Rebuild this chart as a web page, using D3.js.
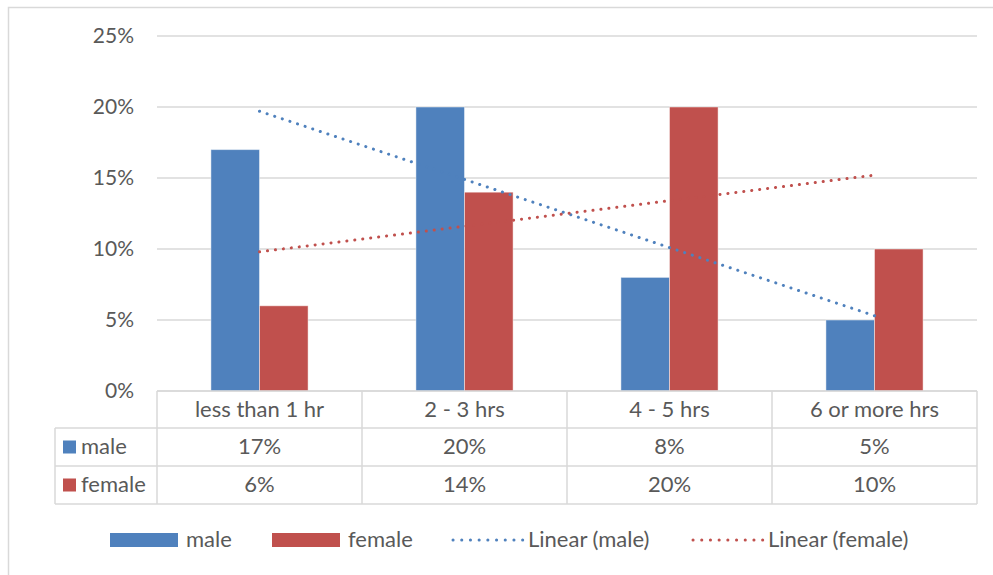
<!DOCTYPE html>
<html>
<head>
<meta charset="utf-8">
<script src="https://cdn.jsdelivr.net/npm/d3@7"></script>
<style>
  html, body { margin: 0; padding: 0; background: #fff; }
  svg { display: block; font-family: Lato, "Open Sans", sans-serif; }
</style>
</head>
<body>
<svg id="chart" width="993" height="575"></svg>
<script>
// Hours per category, share of respondents by gender
const categories = ["less than 1 hr", "2 - 3 hrs", "4 - 5 hrs", "6 or more hrs"];
const maleValues = [0.17, 0.20, 0.08, 0.05];
const femaleValues = [0.06, 0.14, 0.20, 0.10];
const seriesNames = ["male", "female"];
const yTicks = [0, 0.05, 0.10, 0.15, 0.20, 0.25];

const colors = { male: "#4F81BD", female: "#C0504D" };
const textColor = "#595959";
const lineColor = "#d9d9d9";
const fontSize = 22;

const svg = d3.select("#chart");

// Chart frame (top and left edges)
svg.append("path")
  .attr("d", "M8.5,575 L8.5,7.5 L993,7.5")
  .attr("fill", "none").attr("stroke", lineColor).attr("stroke-width", 1.5);

const plot = { left: 157, right: 977, top: 36, bottom: 391 };

const x = d3.scaleBand().domain(categories).range([plot.left, plot.right]).paddingInner(0).paddingOuter(0);
const y = d3.scaleLinear().domain([0, 0.25]).range([plot.bottom, plot.top]);

const barW = x.bandwidth() * 0.237;

// Gridlines
svg.append("g").selectAll("line").data(yTicks).join("line")
  .attr("x1", plot.left).attr("x2", plot.right)
  .attr("y1", d => y(d)).attr("y2", d => y(d))
  .attr("stroke", lineColor).attr("stroke-width", 1.5);

// Y axis labels
const yAxis = d3.axisLeft(y).tickValues(yTicks).tickFormat(d3.format(".0%")).tickSize(0).tickPadding(0);
const yg = svg.append("g").attr("transform", `translate(${plot.left - 23},0)`).call(yAxis);
yg.select(".domain").remove();
yg.selectAll("text").attr("fill", textColor).attr("dy", "0.33em")
  .style("font-size", (fontSize - 1) + "px")
  .style("font-family", "Lato, 'Open Sans', sans-serif");

// Bars
const series = [
  { name: "male", values: maleValues, offset: -1 },
  { name: "female", values: femaleValues, offset: 0 }
];
series.forEach(s => {
  svg.append("g").selectAll("rect").data(s.values).join("rect")
    .attr("x", (d, i) => x(categories[i]) + x.bandwidth() / 2 + s.offset * barW)
    .attr("y", d => y(d))
    .attr("width", barW)
    .attr("height", d => y(0) - y(d))
    .attr("fill", colors[s.name])
    .attr("stroke", "#ffffff").attr("stroke-opacity", 0.45).attr("stroke-width", 1);
});

// Linear trendlines (least squares over category index)
function linearFit(vals) {
  const xs = vals.map((_, i) => i + 1);
  const mx = d3.mean(xs), my = d3.mean(vals);
  const slope = d3.sum(xs, (xi, i) => (xi - mx) * (vals[i] - my)) / d3.sum(xs, xi => (xi - mx) ** 2);
  return xi => my + slope * (xi - mx);
}
const cx = i => x(categories[i]) + x.bandwidth() / 2;
series.forEach(s => {
  const f = linearFit(s.values);
  const n = s.values.length;
  svg.append("line")
    .attr("x1", cx(0)).attr("y1", y(f(1)))
    .attr("x2", cx(n - 1)).attr("y2", y(f(n)))
    .attr("stroke", colors[s.name]).attr("stroke-width", 3)
    .attr("stroke-linecap", "round").attr("stroke-dasharray", "0.1 7.9");
});

// Data table
const rowY = [391, 428, 466, 504];
const tableLeft = 55;
const tg = svg.append("g");
// horizontal lines
tg.append("line").attr("x1", plot.left).attr("x2", plot.right).attr("y1", rowY[0]).attr("y2", rowY[0]);
[1, 2, 3].forEach(r => {
  tg.append("line").attr("x1", tableLeft).attr("x2", plot.right).attr("y1", rowY[r]).attr("y2", rowY[r]);
});
// vertical lines
tg.append("line").attr("x1", tableLeft).attr("x2", tableLeft).attr("y1", rowY[1]).attr("y2", rowY[3]);
categories.forEach(c => {
  tg.append("line").attr("x1", x(c)).attr("x2", x(c)).attr("y1", rowY[0]).attr("y2", rowY[3]);
});
tg.append("line").attr("x1", plot.right).attr("x2", plot.right).attr("y1", rowY[0]).attr("y2", rowY[3]);
tg.selectAll("line").attr("stroke", lineColor).attr("stroke-width", 1.5);

const txt = (g, tx, ty, s, anchor) => g.append("text")
  .attr("x", tx).attr("y", ty).attr("text-anchor", anchor || "middle")
  .attr("dy", "0.33em")
  .attr("fill", textColor).style("font-size", fontSize + "px").text(s);

categories.forEach((c, i) => {
  txt(tg, cx(i), (rowY[0] + rowY[1]) / 2, c);
  txt(tg, cx(i), (rowY[1] + rowY[2]) / 2, d3.format(".0%")(maleValues[i]));
  txt(tg, cx(i), (rowY[2] + rowY[3]) / 2, d3.format(".0%")(femaleValues[i]));
});
seriesNames.forEach((name, r) => {
  const my = (rowY[r + 1] + rowY[r + 2]) / 2;
  tg.append("rect").attr("x", 63).attr("y", my - 6.5).attr("width", 13).attr("height", 13).attr("fill", colors[name]);
  txt(tg, 81, my, name, "start");
});

// Legend
const legendY = 540;
const lg = svg.append("g");
const legendItems = [
  { type: "bar", name: "male", label: "male", x: 110 },
  { type: "bar", name: "female", label: "female", x: 272 },
  { type: "line", name: "male", label: "Linear (male)", x: 452 },
  { type: "line", name: "female", label: "Linear (female)", x: 692 }
];
legendItems.forEach(it => {
  if (it.type === "bar") {
    lg.append("rect").attr("x", it.x).attr("y", legendY - 7).attr("width", 68).attr("height", 14).attr("fill", colors[it.name]);
  } else {
    lg.append("line").attr("x1", it.x + 1).attr("x2", it.x + 71).attr("y1", legendY).attr("y2", legendY)
      .attr("stroke", colors[it.name]).attr("stroke-width", 3)
      .attr("stroke-linecap", "round").attr("stroke-dasharray", "0.1 8.6");
  }
  txt(lg, it.x + 76, legendY, it.label, "start");
});
</script>
</body>
</html>
